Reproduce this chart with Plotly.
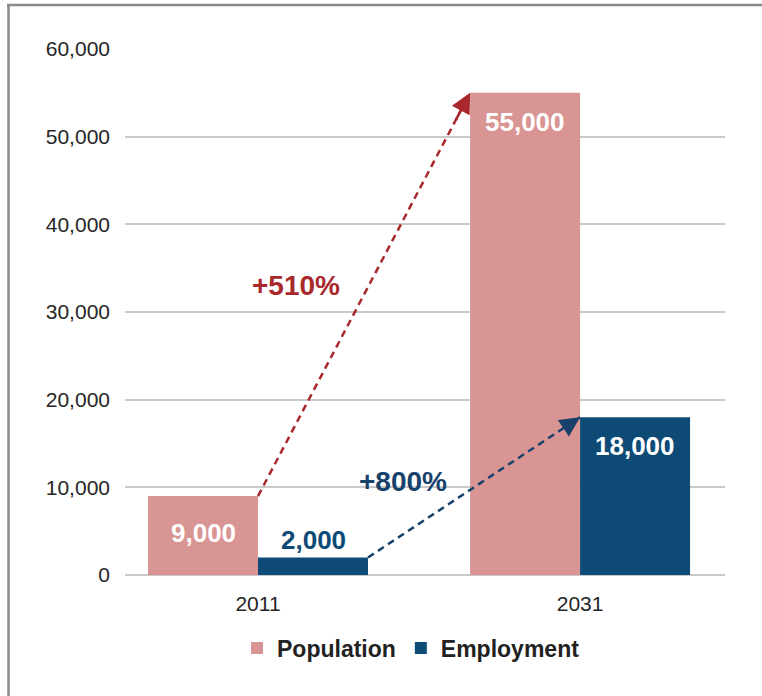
import plotly.graph_objects as go

# ---- data ----
years = ["2011", "2031"]
population = [9000, 55000]
employment = [2000, 18000]
pop_labels = ["9,000", "55,000"]
emp_labels = ["2,000", "18,000"]
growth_labels = ["+510%", "+800%"]
y_tick_vals = [0, 10000, 20000, 30000, 40000, 50000, 60000]
y_tick_text = ["0", "10,000", "20,000", "30,000", "40,000", "50,000", "60,000"]

# ---- style ----
POP = "#D99594"
EMP = "#0D4A76"
RED = "#A8282C"
BLUE = "#17406A"
FONT = "Arial, 'Liberation Sans', sans-serif"
W, H = 762, 696
ML, MR, MT, MB = 125, 37, 49, 121
BARGAP = 0.317
X_RANGE = [-0.413, 1.45]

x = list(range(len(years)))
bw = (1 - BARGAP) / 2  # width of one bar in data units

fig = go.Figure()
fig.add_bar(x=x, y=population, name="Population", marker_color=POP, marker_line_width=0)
fig.add_bar(x=x, y=employment, name="Employment", marker_color=EMP, marker_line_width=0)

annotations = []

# value labels
for xi, (pv, pl, ev, el) in enumerate(zip(population, pop_labels, employment, emp_labels)):
    for cx, v, lab, col in [(xi - bw / 2, pv, pl, POP), (xi + bw / 2, ev, el, EMP)]:
        inside = v > 5000
        annotations.append(dict(
            x=cx, y=v, xref="x", yref="y", text=lab, showarrow=False,
            yanchor="top" if inside else "bottom",
            yshift=(-12 if v > 15000 else -20) if inside else 0,
            font=dict(family=FONT, size=26, color="white" if inside else col, weight="bold"),
        ))

# growth arrows: from top-right corner of 2011 bar to top-left corner of 2031 bar
arrows = [
    ((0, population[0]), (1 - bw, population[1]), RED, growth_labels[0], -68, -9),
    ((bw, employment[0]), (1, employment[1]), BLUE, growth_labels[1], -71, -6),
]
for (x0, y0), (x1, y1), col, lab, xs, ys in arrows:
    fig.add_trace(go.Scatter(x=[x0, x1], y=[y0, y1], mode="lines", showlegend=False,
                             hoverinfo="skip", line=dict(color=col, width=2.5, dash="7px,5px")))
    tx = x1 - 0.07 * (x1 - x0)
    ty = y1 - 0.07 * (y1 - y0)
    annotations.append(dict(x=x1, y=y1, ax=tx, ay=ty, xref="x", yref="y", axref="x", ayref="y",
                            text="", showarrow=True, arrowhead=2, arrowsize=1.6,
                            arrowwidth=2.5, arrowcolor=col))
    annotations.append(dict(x=(x0 + x1) / 2, y=(y0 + y1) / 2, xref="x", yref="y", text=lab,
                            showarrow=False, xshift=xs, yshift=-ys,
                            font=dict(family=FONT, size=28, color=col, weight="bold")))

pw = W - ML - MR
ph = H - MT - MB
def px_x(p):
    return (p - ML) / pw
def px_y(p):
    return (H - MB - p) / ph

shapes = [
    dict(type="line", xref="paper", yref="paper", x0=px_x(7), x1=px_x(W + 2),
         y0=px_y(5), y1=px_y(5), line=dict(color="#8a8a8a", width=2.5)),
    dict(type="line", xref="paper", yref="paper", x0=px_x(8.5), x1=px_x(8.5),
         y0=px_y(H + 2), y1=px_y(4), line=dict(color="#8a8a8a", width=2.5)),
]

fig.update_layout(
    width=W, height=H,
    margin=dict(l=ML, r=MR, t=MT, b=MB, pad=0),
    paper_bgcolor="white", plot_bgcolor="white",
    barmode="group", bargap=BARGAP, bargroupgap=0,
    font=dict(family=FONT, color="#262626"),
    showlegend=True,
    legend=dict(orientation="h", x=px_x(411), xanchor="center", y=px_y(648), yanchor="middle",
                font=dict(family=FONT, size=23, color="#222222", weight="bold"),
                itemwidth=30, traceorder="normal", bgcolor="rgba(0,0,0,0)"),
    annotations=annotations,
    shapes=shapes,
)
fig.update_xaxes(range=X_RANGE, tickvals=x, ticktext=years, showgrid=False, showline=False,
                 zeroline=False, ticks="", tickfont=dict(size=21, color="#262626"),
                 ticklabelstandoff=14)
fig.update_yaxes(range=[0, 60000], tickvals=y_tick_vals, ticktext=y_tick_text, showgrid=True,
                 gridcolor="#c9c9c9", gridwidth=1.5, zeroline=True, zerolinecolor="#c9c9c9",
                 zerolinewidth=1.5, showline=False, ticks="",
                 tickfont=dict(size=21, color="#262626"), ticklabelstandoff=14)

fig.write_html("out.html")
